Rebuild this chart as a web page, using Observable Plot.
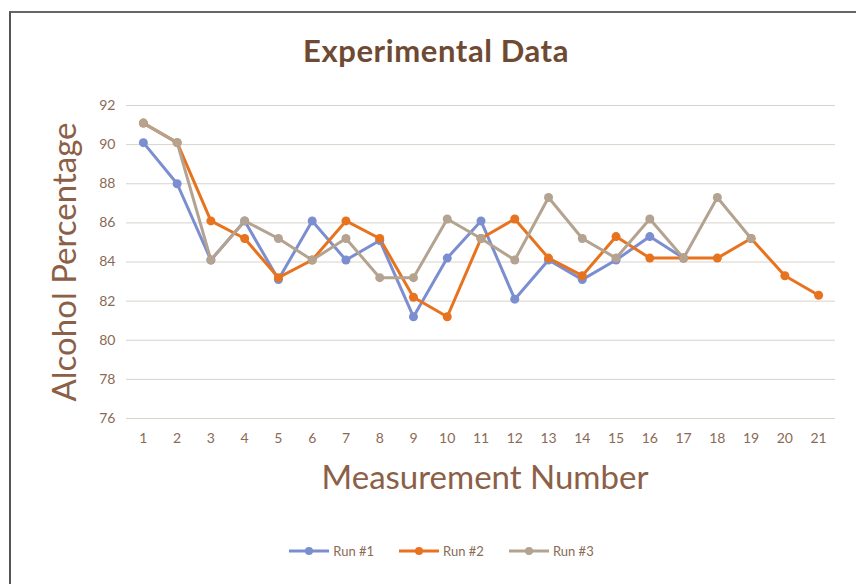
<!DOCTYPE html>
<html>
<head>
<meta charset="utf-8">
<script src="https://cdn.jsdelivr.net/npm/d3@7"></script>
<script src="https://cdn.jsdelivr.net/npm/@observablehq/plot@0.6"></script>
<style>
  html, body { margin: 0; padding: 0; background: #fff; }
  #page { position: relative; width: 856px; height: 584px; overflow: hidden; font-family: Lato, "Open Sans", sans-serif; }
  #frame { position: absolute; left: 9px; top: 11px; width: 900px; height: 620px; border-left: 2px solid #555; border-top: 2px solid #666; }
  #title { position: absolute; top: 31px; left: 0; width: 872px; text-align: center; font-weight: 700; font-size: 31px; letter-spacing: 0.6px; color: #6e4a33; }
  #chart { position: absolute; left: 0; top: 80px; }
  #legend { position: absolute; top: 543px; left: 0; width: 882px; display: flex; justify-content: center; gap: 24px; font-size: 13px; color: #8a6a55; }
  .item { display: flex; align-items: center; gap: 3px; }
</style>
</head>
<body>
<div id="page">
  <div id="frame"></div>
  <div id="title">Experimental Data</div>
  <div id="chart"></div>
  <div id="legend"></div>
</div>
<script>
const measurements = [1,2,3,4,5,6,7,8,9,10,11,12,13,14,15,16,17,18,19,20,21];
const yTicks = [76,78,80,82,84,86,88,90,92];
const seriesNames = ["Run #1", "Run #2", "Run #3"];
const seriesColors = ["#7b8ed0", "#e8731e", "#b3a390"];
const run1 = [90.1, 88.0, 84.1, 86.1, 83.1, 86.1, 84.1, 85.1, 81.2, 84.2, 86.1, 82.1, 84.1, 83.1, 84.1, 85.3, 84.2];
const run2 = [91.1, 90.1, 86.1, 85.2, 83.2, 84.1, 86.1, 85.2, 82.2, 81.2, 85.2, 86.2, 84.2, 83.3, 85.3, 84.2, 84.2, 84.2, 85.2, 83.3, 82.3];
const run3 = [91.1, 90.1, 84.1, 86.1, 85.2, 84.1, 85.2, 83.2, 83.2, 86.2, 85.2, 84.1, 87.3, 85.2, 84.2, 86.2, 84.2, 87.3, 85.2];

const runs = [run1, run2, run3];
const data = runs.flatMap((vals, i) => vals.map((v, j) => ({x: measurements[j], y: v, run: seriesNames[i]})));

const textColor = "#8a6a55";
const chart = Plot.plot({
  width: 856,
  height: 430,
  marginLeft: 126,
  marginRight: 21,
  marginTop: 25,
  marginBottom: 92,
  style: {fontFamily: "Lato, 'Open Sans', sans-serif", background: "transparent"},
  x: {domain: [0.5, 21.5], ticks: measurements},
  y: {domain: [76, 92], ticks: yTicks},
  color: {domain: seriesNames, range: seriesColors},
  marks: [
    Plot.ruleY(yTicks, {stroke: "#d8d3cb", strokeWidth: 1}),
    Plot.axisX({ticks: measurements, tickSize: 0, tickPadding: 15, fontSize: 14, color: textColor, label: null, tickFormat: d => String(d)}),
    Plot.axisY({ticks: yTicks, tickSize: 0, tickPadding: 11, fontSize: 14, color: textColor, label: null}),
    Plot.line(data, {x: "x", y: "y", z: "run", stroke: "run", strokeWidth: 3, curve: "linear"}),
    Plot.dot(data, {x: "x", y: "y", fill: "run", r: 4.5}),
    Plot.text(["Alcohol Percentage"], {text: d => d, frameAnchor: "left", textAnchor: "middle", dx: -61, rotate: -90, fontSize: 33, fill: "#8b6046"}),
    Plot.text(["Measurement Number"], {text: d => d, frameAnchor: "bottom", textAnchor: "middle", dy: 70, dx: 4, fontSize: 33, fill: "#8b6046"})
  ]
});
document.getElementById("chart").appendChild(chart);

const legend = document.getElementById("legend");
seriesNames.forEach((name, i) => {
  const item = document.createElement("div");
  item.className = "item";
  item.innerHTML = `<svg width="42" height="12"><line x1="1" y1="6" x2="41" y2="6" stroke="${seriesColors[i]}" stroke-width="3"/><circle cx="21" cy="6" r="4" fill="${seriesColors[i]}"/></svg><span>${name}</span>`;
  legend.appendChild(item);
});
</script>
</body>
</html>
